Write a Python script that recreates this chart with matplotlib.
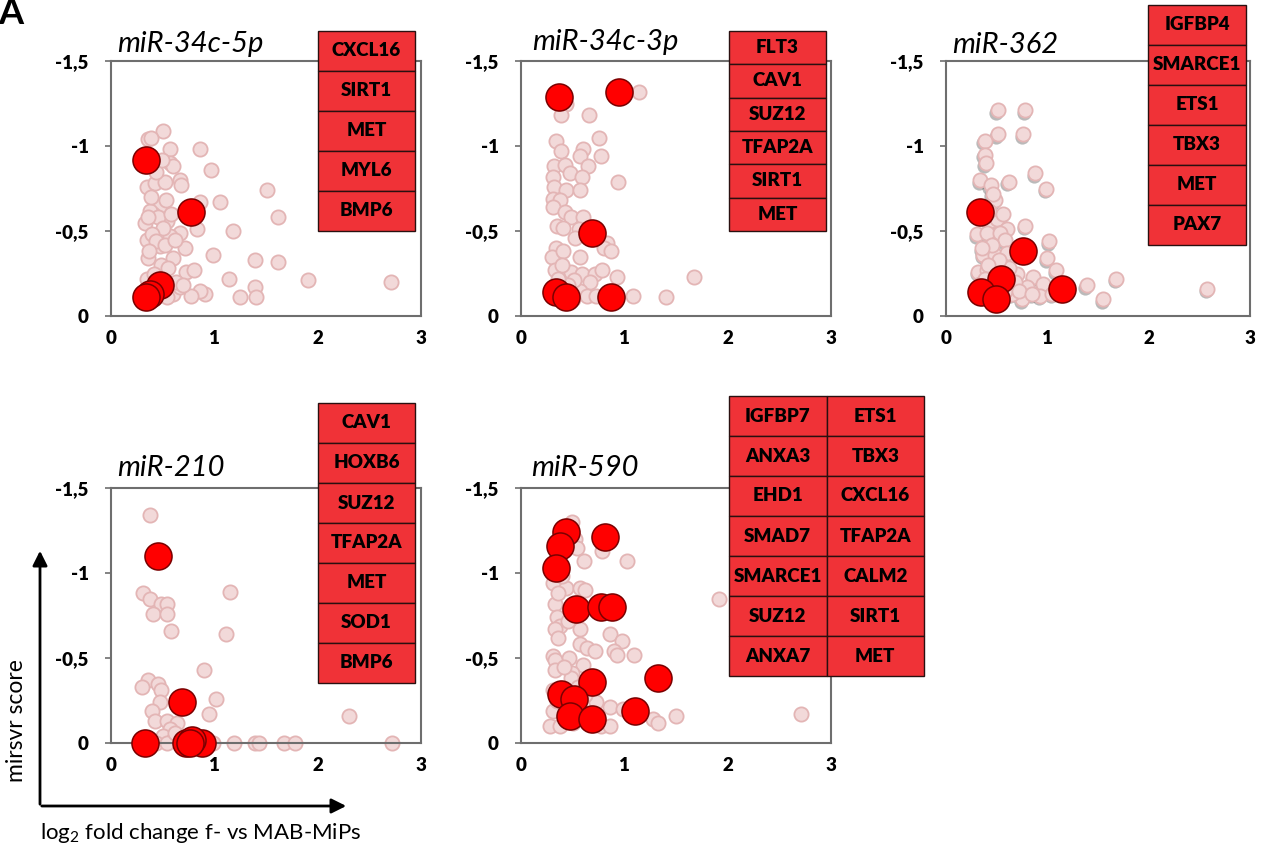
import numpy as np
import matplotlib
matplotlib.use("Agg")
import matplotlib.pyplot as plt
import matplotlib.transforms as mtransforms
from matplotlib.patches import Rectangle

plt.rcParams['font.family'] = ['Lato', 'DejaVu Sans']
plt.rcParams['mathtext.fontset'] = 'custom'
plt.rcParams['mathtext.rm'] = 'Lato'

# ---------------- data ----------------
titles = ['miR-34c-5p', 'miR-34c-3p', 'miR-362', 'miR-210', 'miR-590']

y_ticks = [0, -0.5, -1, -1.5]
y_tick_labels = ['0', '-0,5', '-1', '-1,5']
x_ticks = [0, 1, 2, 3]
x_tick_labels = ['0', '1', '2', '3']

# miR-34c-5p
bg1_x = [0.50, 0.36, 0.39, 0.57, 0.86, 0.97, 0.57, 0.60, 0.67, 0.68, 0.35, 0.43, 0.52, 1.51, 1.05,
         0.86, 1.62, 0.47, 0.33, 0.41, 0.54, 0.83, 1.18, 0.67, 0.35, 0.57, 0.72, 0.47, 0.99, 0.36,
         1.39, 1.62, 0.60, 0.35, 0.73, 0.80, 1.14, 1.91, 2.71, 1.39, 1.25, 1.40, 0.91, 0.86, 0.60,
         0.67, 0.54, 0.77, 0.38, 0.45, 0.50, 0.40, 0.44, 0.52, 0.37, 0.48, 0.55, 0.42, 0.63, 0.46,
         0.39, 0.53, 0.58, 0.44, 0.49, 0.36, 0.62, 0.70, 0.41]
bg1_y = [-1.09, -1.04, -1.05, -0.98, -0.98, -0.86, -0.90, -0.88, -0.80, -0.77, -0.76, -0.78, -0.79, -0.74, -0.67,
         -0.67, -0.58, -0.65, -0.55, -0.60, -0.56, -0.51, -0.50, -0.49, -0.45, -0.47, -0.40, -0.41, -0.36, -0.34,
         -0.33, -0.32, -0.34, -0.22, -0.26, -0.27, -0.22, -0.21, -0.20, -0.17, -0.11, -0.11, -0.13, -0.15, -0.13,
         -0.17, -0.11, -0.12, -0.62, -0.58, -0.52, -0.48, -0.44, -0.42, -0.38, -0.30, -0.28, -0.25, -0.20, -0.22,
         -0.70, -0.68, -0.60, -0.85, -0.92, -0.58, -0.45, -0.18, -0.15]
hit1_x = [0.34, 0.77, 0.47, 0.38, 0.34]
hit1_y = [-0.92, -0.61, -0.18, -0.13, -0.11]
genes1 = [['CXCL16', 'SIRT1', 'MET', 'MYL6', 'BMP6']]

# miR-34c-3p
bg2_x = [1.14, 0.44, 0.39, 0.66, 0.75, 0.34, 0.39, 0.60, 0.57, 0.77, 0.32, 0.43, 0.65, 0.31, 0.47,
         0.59, 0.94, 0.32, 0.44, 0.57, 0.31, 0.38, 0.31, 0.43, 0.48, 0.60, 0.35, 0.41, 0.56, 0.52,
         0.83, 0.80, 0.87, 0.34, 0.30, 0.41, 0.57, 0.33, 0.48, 0.59, 0.72, 0.78, 0.93, 1.67, 0.67,
         0.57, 0.64, 0.73, 1.08, 1.40, 0.51, 0.40, 0.45, 0.36, 0.50]
bg2_y = [-1.32, -1.25, -1.18, -1.18, -1.05, -1.03, -0.97, -0.98, -0.94, -0.94, -0.88, -0.89, -0.88, -0.82, -0.84,
         -0.82, -0.79, -0.76, -0.74, -0.74, -0.69, -0.68, -0.64, -0.61, -0.58, -0.58, -0.53, -0.52, -0.51, -0.46,
         -0.43, -0.40, -0.38, -0.40, -0.35, -0.38, -0.35, -0.27, -0.26, -0.25, -0.25, -0.27, -0.23, -0.23, -0.20,
         -0.15, -0.12, -0.12, -0.12, -0.11, -0.21, -0.30, -0.18, -0.22, -0.10]
hit2_x = [0.37, 0.95, 0.69, 0.34, 0.44, 0.87]
hit2_y = [-1.29, -1.32, -0.49, -0.14, -0.11, -0.11]
genes2 = [['FLT3', 'CAV1', 'SUZ12', 'TFAP2A', 'SIRT1', 'MET']]

# miR-362
bg3_x = [0.51, 0.78, 0.51, 0.76, 0.38, 0.38, 0.39, 0.88, 0.34, 0.44, 0.62, 0.99, 0.48, 0.43, 0.50,
         0.60, 0.78, 0.31, 0.40, 0.53, 0.58, 1.02, 0.37, 0.48, 0.60, 1.00, 1.09, 0.32, 0.40, 0.70,
         0.86, 0.96, 1.68, 1.39, 2.58, 1.55, 0.75, 0.93, 0.65, 0.80, 0.34, 0.45, 0.55, 0.42, 0.62,
         0.68, 0.36, 0.52, 0.47, 0.58, 0.41, 0.72, 0.85, 1.05, 0.56, 0.46, 0.38]
bg3_y = [-1.21, -1.21, -1.07, -1.07, -1.03, -0.95, -0.90, -0.84, -0.80, -0.77, -0.79, -0.75, -0.68, -0.56, -0.57,
         -0.51, -0.53, -0.48, -0.49, -0.49, -0.45, -0.44, -0.36, -0.36, -0.37, -0.34, -0.27, -0.26, -0.27, -0.25,
         -0.23, -0.19, -0.22, -0.18, -0.16, -0.10, -0.10, -0.12, -0.13, -0.17, -0.19, -0.42, -0.30, -0.62, -0.28,
         -0.20, -0.40, -0.33, -0.24, -0.15, -0.30, -0.15, -0.13, -0.13, -0.60, -0.72, -0.22]
hit3_x = [0.34, 0.76, 0.54, 0.35, 0.49, 1.14]
hit3_y = [-0.61, -0.38, -0.22, -0.14, -0.10, -0.16]
genes3 = [['IGFBP4', 'SMARCE1', 'ETS1', 'TBX3', 'MET', 'PAX7']]

# miR-210
bg4_x = [0.38, 1.15, 0.31, 0.38, 0.48, 0.54, 0.41, 0.54, 0.58, 1.11, 0.90, 0.36, 0.45, 0.30, 0.48,
         1.02, 0.47, 0.40, 0.95, 2.30, 0.43, 0.54, 0.64, 0.57, 0.50, 0.60, 0.99, 1.19, 1.39, 1.43,
         1.67, 1.78, 2.72, 0.44, 0.54, 0.73, 0.62]
bg4_y = [-1.34, -0.89, -0.88, -0.85, -0.82, -0.82, -0.76, -0.76, -0.66, -0.64, -0.43, -0.37, -0.35, -0.33, -0.31,
         -0.26, -0.24, -0.19, -0.17, -0.16, -0.13, -0.13, -0.12, -0.08, -0.04, -0.02, 0.0, 0.0, 0.0, 0.0,
         0.0, 0.0, 0.0, 0.0, 0.0, 0.0, -0.06]
hit4_x = [0.45, 0.69, 0.33, 0.73, 0.88, 0.78, 0.76]
hit4_y = [-1.10, -0.24, 0.0, 0.0, 0.0, -0.02, 0.0]
genes4 = [['CAV1', 'HOXB6', 'SUZ12', 'TFAP2A', 'MET', 'SOD1', 'BMP6']]

# miR-590
bg5_x = [0.49, 0.52, 0.78, 0.54, 0.61, 1.03, 0.31, 0.44, 0.57, 0.62, 0.33, 1.92, 0.35, 0.38, 0.57,
         0.33, 0.86, 0.98, 0.36, 0.57, 0.64, 0.72, 0.90, 0.93, 1.09, 0.31, 0.46, 0.33, 0.60, 0.33,
         0.49, 0.48, 0.31, 0.86, 0.99, 1.28, 1.33, 1.50, 2.71, 0.28, 0.38, 0.77, 0.86, 0.31, 0.73,
         0.40, 0.36, 0.45, 0.55, 0.42, 0.35, 0.50, 0.62, 0.44]
bg5_y = [-1.30, -1.20, -1.13, -1.15, -1.07, -1.07, -0.94, -0.91, -0.91, -0.90, -0.82, -0.85, -0.74, -0.69, -0.67,
         -0.67, -0.64, -0.60, -0.62, -0.58, -0.56, -0.54, -0.54, -0.52, -0.52, -0.51, -0.50, -0.49, -0.46, -0.43,
         -0.41, -0.38, -0.31, -0.21, -0.20, -0.14, -0.12, -0.16, -0.17, -0.10, -0.10, -0.10, -0.10, -0.19, -0.24,
         -0.98, -0.88, -0.72, -0.33, -0.45, -0.25, -0.12, -0.28, -0.20]
hit5_x = [0.44, 0.38, 0.34, 0.81, 0.53, 0.77, 0.88, 1.33, 0.69, 0.39, 0.51, 0.47, 0.69, 1.10]
hit5_y = [-1.24, -1.16, -1.03, -1.21, -0.79, -0.80, -0.80, -0.38, -0.36, -0.29, -0.26, -0.16, -0.14, -0.19]
genes5 = [['IGFBP7', 'ANXA3', 'EHD1', 'SMAD7', 'SMARCE1', 'SUZ12', 'ANXA7'],
          ['ETS1', 'TBX3', 'CXCL16', 'TFAP2A', 'CALM2', 'SIRT1', 'MET']]

bg_x = [bg1_x, bg2_x, bg3_x, bg4_x, bg5_x]
bg_y = [bg1_y, bg2_y, bg3_y, bg4_y, bg5_y]
hit_x = [hit1_x, hit2_x, hit3_x, hit4_x, hit5_x]
hit_y = [hit1_y, hit2_y, hit3_y, hit4_y, hit5_y]
genes = [genes1, genes2, genes3, genes4, genes5]

# ---------------- layout (pixels) ----------------
W, H = 1268, 857
fig = plt.figure(figsize=(W / 100, H / 100), dpi=100)


def px(x0, y0, x1, y1):
    return [x0 / W, 1 - y1 / H, (x1 - x0) / W, (y1 - y0) / H]


axes_px = [(111, 61, 421, 316), (521, 61, 831, 316), (946, 61, 1250, 316),
           (111, 488, 421, 743), (521, 488, 831, 743)]
title_px = [(117, 52), (532, 50), (952, 53), (117, 476), (531, 476)]
# left, top, column width, row height
box_px = [(318, 31, 97, 40), (729, 31, 97, 33.3), (1148, 5, 98, 40),
          (318, 403, 97, 40), (729, 396, 97.5, 40)]

pink_face = '#f2d9d9'
pink_edge = '#e3b5b5'
box_red = '#f03237'
heavy = 'heavy'

for i in range(5):
    ax = fig.add_axes(px(*axes_px[i]))
    if i == 2:
        shadow = mtransforms.offset_copy(ax.transData, fig=fig, x=-1.5, y=-2.5, units='dots')
        ax.scatter(bg_x[i], bg_y[i], s=105, c='#3a3a3a', alpha=0.35, linewidths=0,
                   transform=shadow, clip_on=False, zorder=1)
    ax.scatter(bg_x[i], bg_y[i], s=105, c=pink_face, edgecolors=pink_edge, linewidths=1.3,
               clip_on=False, zorder=2)
    ax.scatter(hit_x[i], hit_y[i], s=380, c='#ff0000', edgecolors='#7a0000', linewidths=1.1,
               clip_on=False, zorder=3)
    ax.set_xlim(0, 3)
    ax.set_ylim(0, -1.5)
    ax.set_xticks(x_ticks)
    ax.set_xticklabels(x_tick_labels, fontsize=13.5, fontweight=heavy)
    ax.set_yticks(y_ticks)
    ax.set_yticklabels(y_tick_labels, fontsize=13.5, fontweight=heavy)
    ax.tick_params(axis='x', length=0, pad=10)
    ax.tick_params(axis='y', length=4, width=1.2, color='#6e6e6e', pad=12)
    for s in ax.spines.values():
        s.set_color('#6e6e6e')
        s.set_linewidth(1.5)

    tx, ty = title_px[i]
    fig.text(tx / W, 1 - ty / H, titles[i], fontsize=21, style='italic', va='baseline')

    bx, by, bw, bh = box_px[i]
    for c, col in enumerate(genes[i]):
        for r, g in enumerate(col):
            x0 = bx + c * bw
            y0 = by + r * bh
            fig.patches.append(Rectangle((x0 / W, 1 - (y0 + bh) / H), bw / W, bh / H,
                                         transform=fig.transFigure, facecolor=box_red,
                                         edgecolor='#2a1010', linewidth=1.0, zorder=5))
            fig.text((x0 + bw / 2) / W, 1 - (y0 + bh / 2) / H, g, fontsize=13.5,
                     fontweight=heavy, ha='center', va='center', zorder=6)

# panel letter (cut at the top edge as in the source figure)
fig.text(-2 / W, 1 - 24 / H, 'A', fontsize=26, fontweight='bold', va='baseline')

# axis arrows in the lower left corner
ann_ax = fig.axes[3]
ann_ax.annotate('', xy=(40 / W, 1 - 548 / H), xytext=(40 / W, 1 - 807 / H),
                xycoords='figure fraction', textcoords='figure fraction',
                arrowprops=dict(arrowstyle='-|>', color='black', lw=2, mutation_scale=22),
                annotation_clip=False)
ann_ax.annotate('', xy=(349 / W, 1 - 806 / H), xytext=(39 / W, 1 - 806 / H),
                xycoords='figure fraction', textcoords='figure fraction',
                arrowprops=dict(arrowstyle='-|>', color='black', lw=2, mutation_scale=22),
                annotation_clip=False)
fig.text(17 / W, 1 - 721 / H, 'mirsvr score', fontsize=16.5, rotation=90, ha='center', va='center')
fig.text(40 / W, 1 - 833 / H, r'log$_\mathregular{2}$ fold change f- vs MAB-MiPs', fontsize=16,
         ha='left', va='center')

fig.savefig('out.png', dpi=100, facecolor='white')
